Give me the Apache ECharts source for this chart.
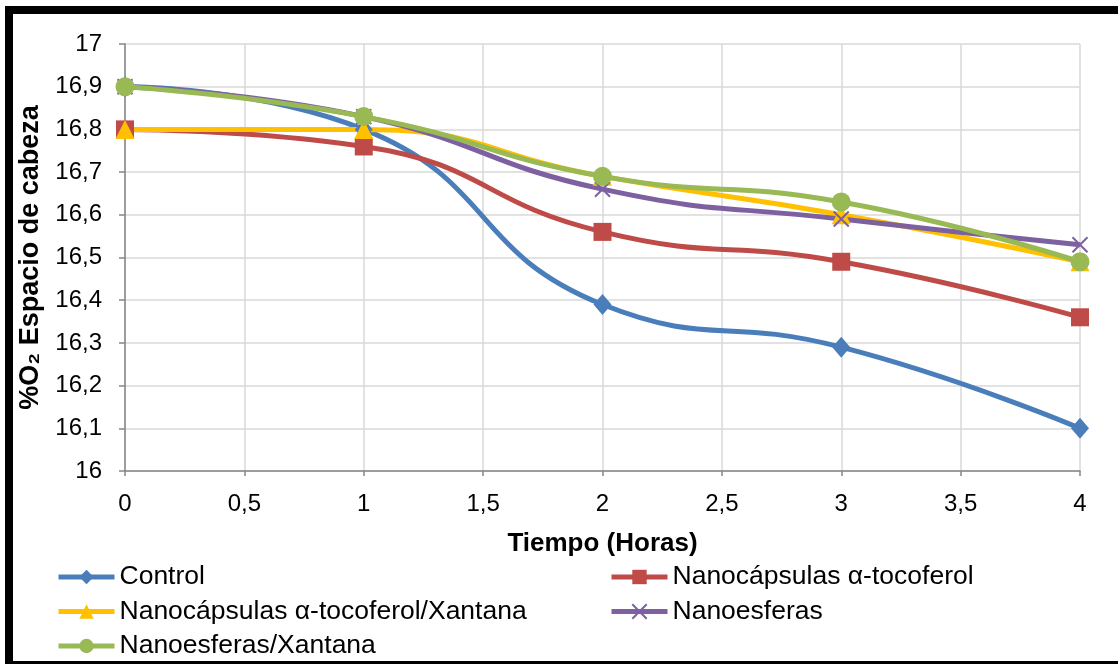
<!DOCTYPE html>
<html>
<head>
<meta charset="utf-8">
<script src="https://cdn.jsdelivr.net/npm/echarts@6/dist/echarts.min.js"></script>
<style>
html,body{margin:0;padding:0;background:#fff;overflow:hidden;}
#chart{position:absolute;left:0;top:0;width:1118px;height:664px;}
#frame{position:absolute;left:5px;top:6px;width:1140px;height:663px;box-sizing:border-box;border:8px solid #000;pointer-events:none;}
</style>
</head>
<body>
<div id="chart"></div>
<div id="frame"></div>
<script>
var hours = [0, 1, 2, 3, 4];
var seriesNames = ['Control', 'Nanocápsulas α-tocoferol', 'Nanocápsulas α-tocoferol/Xantana', 'Nanoesferas', 'Nanoesferas/Xantana'];
var control = [16.9, 16.8, 16.39, 16.29, 16.1];
var nanocapsulas = [16.8, 16.76, 16.56, 16.49, 16.36];
var nanocapsulasXantana = [16.8, 16.8, 16.69, 16.6, 16.49];
var nanoesferas = [16.9, 16.83, 16.66, 16.59, 16.53];
var nanoesferasXantana = [16.9, 16.83, 16.69, 16.63, 16.49];
var xTitle = 'Tiempo (Horas)';
var yTitle = '%O₂ Espacio de cabeza';

var colors = ['#4a7ebb', '#be4b48', '#ffc000', '#7d60a0', '#98b954'];
var symbols = ['diamond', 'rect', 'triangle', 'path://M0,0L10,10M10,0L0,10', 'circle'];
var sizes = [[18, 21], 18, 19, 15, 19];
var allData = [control, nanocapsulas, nanocapsulasXantana, nanoesferas, nanoesferasXantana];

function fmt(v) {
  if (Math.abs(v - Math.round(v)) < 1e-9) return String(Math.round(v));
  var s = (Math.round(v * 10) / 10).toFixed(1);
  return s.replace('.', ',');
}

var series = seriesNames.map(function (name, i) {
  return {
    name: name,
    type: 'line',
    smooth: 0.5,
    clip: false,
    symbol: symbols[i],
    symbolSize: sizes[i],
    data: hours.map(function (h, j) { return [h, allData[i][j]]; }),
    lineStyle: { color: colors[i], width: 5 },
    itemStyle: { color: colors[i], borderColor: colors[i], borderWidth: i === 3 ? 2 : 0 },
    emphasis: { disabled: true }
  };
});

var legendText = { fontFamily: 'Liberation Sans, Arial, sans-serif', fontSize: 26.5, color: '#000', lineHeight: 27 };

var option = {
  animation: false,
  grid: { left: 125, right: 38, top: 44, bottom: 193 },
  legend: [
    {
      orient: 'vertical', left: 56, top: 563.5, itemWidth: 56, itemHeight: 18, itemGap: 7.5,
      data: [seriesNames[0], seriesNames[2], seriesNames[4]],
      lineStyle: { width: 5 },
      textStyle: legendText, padding: 0, selectedMode: false
    },
    {
      orient: 'vertical', left: 609, top: 563.5, itemWidth: 56, itemHeight: 18, itemGap: 7.5,
      data: [seriesNames[1], seriesNames[3]],
      lineStyle: { width: 5 },
      textStyle: legendText, padding: 0, selectedMode: false
    }
  ],
  xAxis: {
    type: 'value', min: 0, max: 4, interval: 0.5,
    name: xTitle, nameLocation: 'middle', nameGap: 60,
    nameTextStyle: { fontFamily: 'Liberation Sans, Arial, sans-serif', fontSize: 26, fontWeight: 'bold', color: '#000' },
    axisLine: { show: true, lineStyle: { color: '#868686', width: 1.5 } },
    axisTick: { show: true, length: 5, lineStyle: { color: '#868686', width: 1.5 } },
    axisLabel: { formatter: fmt, fontFamily: 'Liberation Sans, Arial, sans-serif', fontSize: 24, color: '#000', margin: 21 },
    splitLine: { show: true, lineStyle: { color: '#d9d9d9', width: 1.5 } }
  },
  yAxis: {
    type: 'value', min: 16, max: 17, interval: 0.1,
    name: yTitle, nameLocation: 'middle', nameGap: 69, nameRotate: 90,
    nameTextStyle: { fontFamily: 'Liberation Sans, Arial, sans-serif', fontSize: 27, fontWeight: 'bold', color: '#000' },
    axisLine: { show: true, lineStyle: { color: '#868686', width: 1.5 } },
    axisTick: { show: true, length: 6, lineStyle: { color: '#868686', width: 1.5 } },
    axisLabel: { formatter: fmt, fontFamily: 'Liberation Sans, Arial, sans-serif', fontSize: 24, color: '#000', margin: 23 },
    splitLine: { show: true, lineStyle: { color: '#d9d9d9', width: 1.5 } }
  },
  series: series
};

var chart = echarts.init(document.getElementById('chart'), null, { renderer: 'canvas' });
chart.setOption(option);
</script>
</body>
</html>
